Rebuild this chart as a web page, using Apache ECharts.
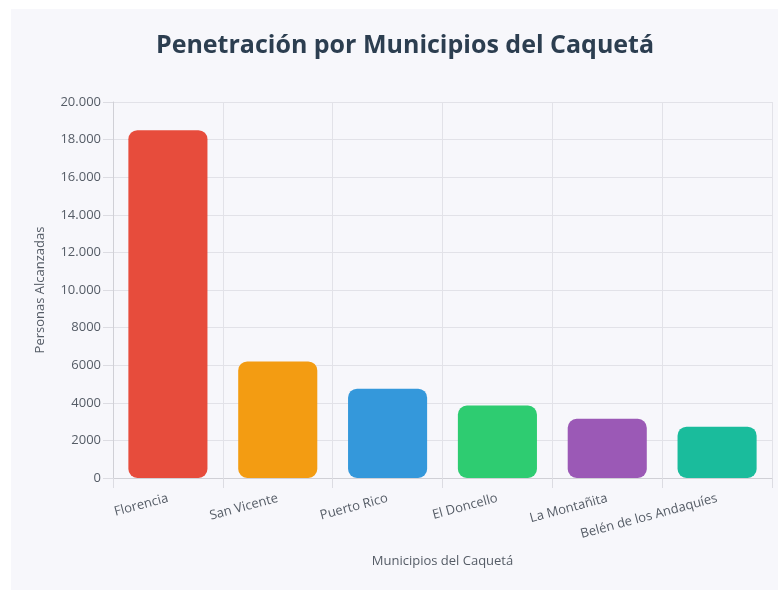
<!DOCTYPE html>
<html>
<head>
<meta charset="utf-8">
<script src="https://cdn.jsdelivr.net/npm/echarts@6/dist/echarts.min.js"></script>
<style>
  html, body { margin: 0; padding: 0; background: #ffffff; }
  #panel { position: absolute; left: 11px; top: 9px; width: 767px; height: 581px; background: #f7f7fb; }
  #chart { position: absolute; left: 0; top: 0; width: 778px; height: 590px; }
</style>
</head>
<body>
<div id="panel"></div>
<div id="chart"></div>
<script>
// datos
var municipios = ["Florencia", "San Vicente", "Puerto Rico", "El Doncello", "La Montañita", "Belén de los Andaquíes"];
var personas = [18500, 6200, 4750, 3850, 3150, 2730];
var colores = ["#e74c3c", "#f39c12", "#3498db", "#2ecc71", "#9b59b6", "#1abc9c"];

function formatoMiles(v) {
  // es-ES: solo separa miles a partir de 5 cifras
  if (Math.abs(v) >= 10000) {
    return String(v).replace(/\B(?=(\d{3})+(?!\d))/g, ".");
  }
  return String(v);
}

var myChart = echarts.init(document.getElementById("chart"));
myChart.setOption({
  backgroundColor: "transparent",
  textStyle: { fontFamily: "Open Sans" },
  title: {
    text: "Penetración por Municipios del Caquetá",
    left: 400,
    textAlign: "center",
    top: 28,
    textStyle: {
      fontFamily: "Open Sans",
      fontSize: 25,
      fontWeight: "bold",
      color: "#2c3e50",
    },
  },
  grid: {
    left: 113,
    right: 6,
    top: 102,
    bottom: 112,
  },
  xAxis: {
    type: "category",
    data: municipios,
    boundaryGap: true,
    name: "Municipios del Caquetá",
    nameLocation: "middle",
    nameGap: 77,
    nameTextStyle: { fontSize: 13, color: "#555c66" },
    axisLine: { show: true, lineStyle: { color: "#d0d0d6" } },
    axisTick: { show: true, length: 10, lineStyle: { color: "#dcdce2" } },
    axisLabel: {
      rotate: 15,
      fontSize: 13,
      color: "#555c66",
      margin: 20,
      interval: 0,
    },
    splitLine: { show: true, lineStyle: { color: "#e2e2e8" } },
  },
  yAxis: {
    type: "value",
    min: 0,
    max: 20000,
    interval: 2000,
    name: "Personas Alcanzadas",
    nameLocation: "middle",
    nameGap: 66,
    nameTextStyle: { fontSize: 13, color: "#555c66" },
    axisLine: { show: true, lineStyle: { color: "#d0d0d6" } },
    axisTick: { show: true, length: 10, lineStyle: { color: "#dcdce2" } },
    axisLabel: {
      fontSize: 13,
      color: "#555c66",
      margin: 12,
      formatter: formatoMiles,
    },
    splitLine: { show: true, lineStyle: { color: "#e2e2e8" } },
  },
  series: [
    {
      type: "bar",
      barWidth: "72%",
      data: personas.map(function (v, i) {
        return { value: v, itemStyle: { color: colores[i] } };
      }),
      itemStyle: { borderRadius: 9 },
    },
  ],
});
</script>
</body>
</html>
